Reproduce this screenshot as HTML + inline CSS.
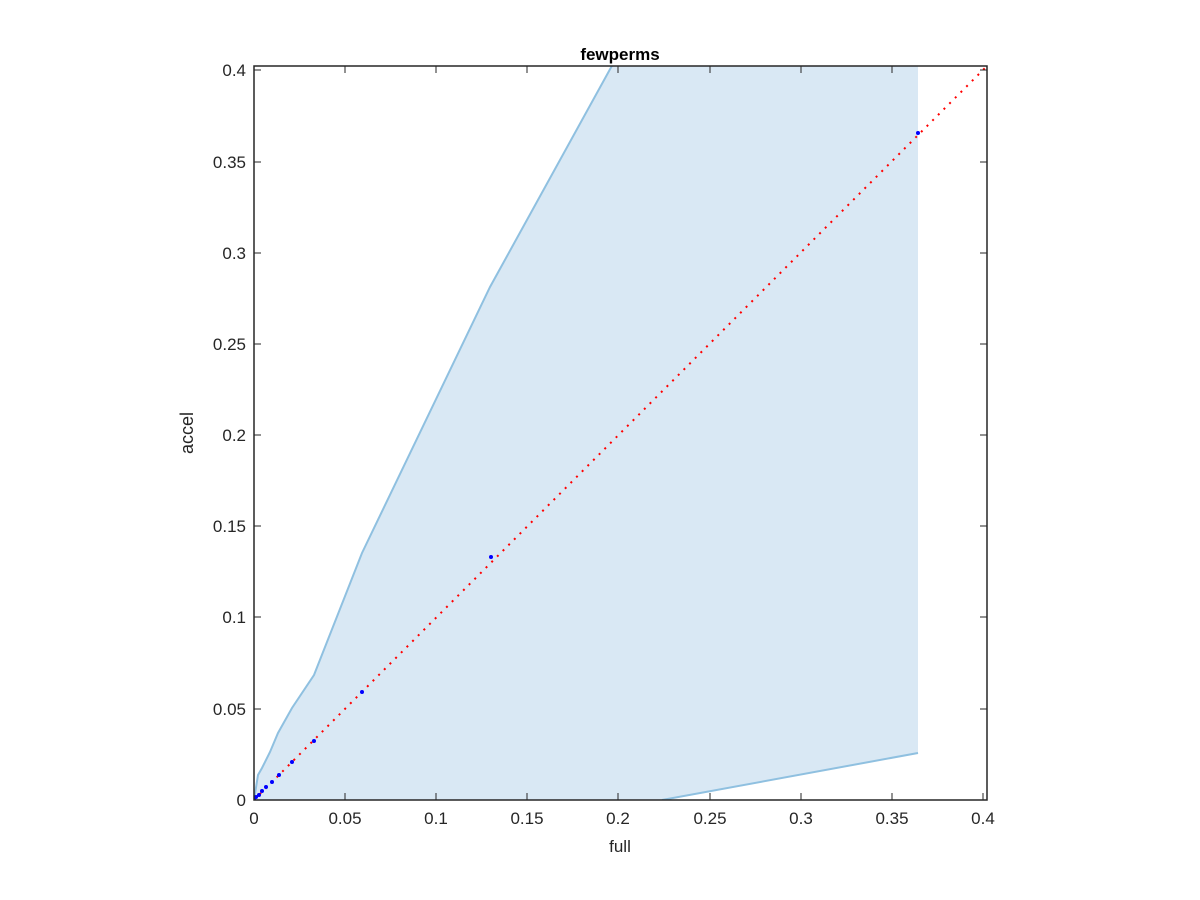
<!DOCTYPE html>
<html><head><style>body{margin:0;background:#fff}svg{display:block}</style></head><body>
<svg width="1200" height="900" xmlns="http://www.w3.org/2000/svg" font-family="Liberation Sans, sans-serif">
<defs><clipPath id="c"><rect x="254" y="66" width="733" height="734"/></clipPath></defs>
<g clip-path="url(#c)">
<polygon points="254,800 258,775 262,768 270,752 278,733 292,708 314,675 362,553 490,287 614,62 918,62 918,753 662,800" fill="#d9e8f4"/>
<polyline points="254,800 258,775 262,768 270,752 278,733 292,708 314,675 362,553 490,287 614,62" fill="none" stroke="#8fc0e0" stroke-width="2"/>
<line x1="662" y1="800" x2="918" y2="753" stroke="#8fc0e0" stroke-width="2"/>
<line x1="254" y1="800" x2="987" y2="66" stroke="#ff0000" stroke-width="2" stroke-dasharray="2,6"/>
<g fill="#0000ff">
<circle cx="918" cy="133" r="2"/><circle cx="491" cy="557" r="2"/><circle cx="362" cy="692" r="2"/><circle cx="314" cy="741" r="2"/><circle cx="292" cy="762" r="2"/><circle cx="279" cy="775" r="2"/><circle cx="272" cy="782" r="2"/><circle cx="266" cy="787" r="2"/><circle cx="262" cy="791" r="2"/><circle cx="259" cy="795" r="2"/><circle cx="256" cy="797" r="2"/><circle cx="254" cy="799" r="2"/>
</g>
</g>
<rect x="254" y="66" width="733" height="734" fill="none" stroke="#262626" stroke-width="1.5"/>
<g stroke="#262626" stroke-width="1">
<line x1="345" y1="800" x2="345" y2="793"/><line x1="436" y1="800" x2="436" y2="793"/><line x1="527" y1="800" x2="527" y2="793"/><line x1="618" y1="800" x2="618" y2="793"/><line x1="710" y1="800" x2="710" y2="793"/><line x1="801" y1="800" x2="801" y2="793"/><line x1="892" y1="800" x2="892" y2="793"/><line x1="983" y1="800" x2="983" y2="793"/>
<line x1="345" y1="66" x2="345" y2="73"/><line x1="436" y1="66" x2="436" y2="73"/><line x1="527" y1="66" x2="527" y2="73"/><line x1="618" y1="66" x2="618" y2="73"/><line x1="710" y1="66" x2="710" y2="73"/><line x1="801" y1="66" x2="801" y2="73"/><line x1="892" y1="66" x2="892" y2="73"/>
<line x1="254" y1="709" x2="261" y2="709"/><line x1="254" y1="617" x2="261" y2="617"/><line x1="254" y1="526" x2="261" y2="526"/><line x1="254" y1="435" x2="261" y2="435"/><line x1="254" y1="344" x2="261" y2="344"/><line x1="254" y1="253" x2="261" y2="253"/><line x1="254" y1="162" x2="261" y2="162"/><line x1="254" y1="70" x2="261" y2="70"/>
<line x1="987" y1="709" x2="980" y2="709"/><line x1="987" y1="617" x2="980" y2="617"/><line x1="987" y1="526" x2="980" y2="526"/><line x1="987" y1="435" x2="980" y2="435"/><line x1="987" y1="344" x2="980" y2="344"/><line x1="987" y1="253" x2="980" y2="253"/><line x1="987" y1="162" x2="980" y2="162"/><line x1="987" y1="70" x2="980" y2="70"/>
</g>
<g font-size="17" fill="#262626" text-anchor="middle">
<text x="254" y="824">0</text><text x="345" y="824">0.05</text><text x="436" y="824">0.1</text><text x="527" y="824">0.15</text><text x="618" y="824">0.2</text><text x="710" y="824">0.25</text><text x="801" y="824">0.3</text><text x="892" y="824">0.35</text><text x="983" y="824">0.4</text>
<text x="620" y="852">full</text>
</g>
<g font-size="17" fill="#262626" text-anchor="end">
<text x="246" y="806">0</text><text x="246" y="715">0.05</text><text x="246" y="623">0.1</text><text x="246" y="532">0.15</text><text x="246" y="441">0.2</text><text x="246" y="350">0.25</text><text x="246" y="259">0.3</text><text x="246" y="168">0.35</text><text x="246" y="76">0.4</text>
</g>
<text x="193" y="433" font-size="18" fill="#262626" text-anchor="middle" transform="rotate(-90 193 433)">accel</text>
<text x="620" y="60" font-size="17" font-weight="bold" fill="#000" text-anchor="middle">fewperms</text>
</svg>
</body></html>
